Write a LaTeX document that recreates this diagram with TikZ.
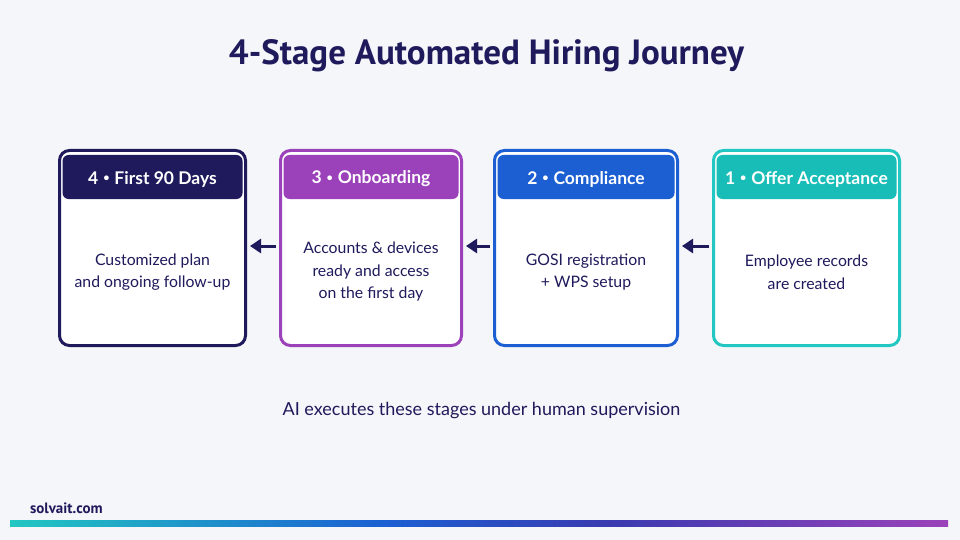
\documentclass[tikz,border=0pt]{standalone}
\usepackage{graphicx}
\usepackage{fontspec}
\setmainfont{Lato}
\newfontfamily\titlefont{PT Sans}
\usetikzlibrary{arrows.meta}
\definecolor{bg}{HTML}{F5F6F9}
\definecolor{navy}{HTML}{1F1A5C}
\definecolor{purp}{HTML}{9B42BA}
\definecolor{blu}{HTML}{1B5FD2}
\definecolor{tealb}{HTML}{22C7C2}
\definecolor{tealh}{HTML}{19BDB7}
\definecolor{indig}{HTML}{3A3AB0}
\newcommand\bul{\hspace{0.28em}\raisebox{0.12em}{\scalebox{0.62}{•}}\hspace{0.28em}}
\pgfdeclarehorizontalshading{barshade}{100bp}{color(0bp)=(tealb); color(25bp)=(tealb); color(45bp)=(blu); color(57bp)=(indig); color(75bp)=(purp); color(100bp)=(purp)}
\tikzset{
  card/.style={draw=#1, line width=3pt, rounded corners=10pt, fill=white, inner sep=0pt, minimum height=195pt},
  head/.style={fill=#1, rounded corners=6pt, inner sep=0pt, minimum height=44pt, text=white, font=\fontsize{17.5}{20}\selectfont\bfseries},
  body/.style={text=navy, align=center, font=\fontsize{15.8}{22.5}\selectfont},
  arr/.style={draw=navy, line width=3pt, -{Triangle[length=11pt,width=14pt]}},
}
\begin{document}
\begin{tikzpicture}[x=1pt,y=-1pt]
\fill[bg] (0,0) rectangle (960,540);
\useasboundingbox (0,0) rectangle (960,540);
\node[text=navy, font=\titlefont\fontsize{35}{40}\selectfont\bfseries] (title) at (486.5,56) {4-Stage Automated Hiring Journey};
% cards
\node[card=navy, minimum width=186pt] (c4) at (152.5,248) {};
\node[card=purp, minimum width=181pt] (c3) at (371,248) {};
\node[card=blu, minimum width=183pt] (c2) at (586,248) {};
\node[card=tealb, minimum width=186pt] (c1) at (806.5,248) {};
% headers
\node[head=navy, minimum width=180pt] (h4) at (152.5,177) {};
\node[head=purp, minimum width=175pt] (h3) at (371,177) {};
\node[head=blu, minimum width=177pt] (h2) at (586,177) {};
\node[head=tealh, minimum width=180pt] (h1) at (806.5,177) {};
\node[text=white, font=\fontsize{17.5}{20}\selectfont\bfseries] (t4) at (152.5,179) {4\bul First 90 Days};
\node[text=white, font=\fontsize{17.5}{20}\selectfont\bfseries] (t3) at (371,179) {3\bul Onboarding};
\node[text=white, font=\fontsize{17.5}{20}\selectfont\bfseries] (t2) at (586,179) {2\bul Compliance};
\node[text=white, font=\fontsize{17.5}{20}\selectfont\bfseries] (t1) at (806.5,179) {1\bul Offer Acceptance};
% bodies
\node[body] (b4) at (152.5,272) {Customized plan\\and ongoing follow-up};
\node[body] (b3) at (371,272) {Accounts \& devices\\ready and access\\on the first day};
\node[body] (b2) at (586,272) {GOSI registration\\+ WPS setup};
\node[body] (b1) at (806.5,272) {Employee records\\are created};
% arrows
\draw[arr] ([xshift=-3pt,yshift=2pt]c3.west) -- ([xshift=3pt,yshift=2pt]c4.east);
\draw[arr] ([xshift=-3pt,yshift=2pt]c2.west) -- ([xshift=3pt,yshift=2pt]c3.east);
\draw[arr] ([xshift=-3pt,yshift=2pt]c1.west) -- ([xshift=3pt,yshift=2pt]c2.east);
% caption
\node[text=navy, font=\fontsize{18}{21}\selectfont] (cap) at (481.5,411) {AI executes these stages under human supervision};
% footer
\node[text=navy, anchor=west, font=\titlefont\fontsize{15}{17}\selectfont\bfseries] (site) at (26.5,508) {solvait.com};
\shade[shading=barshade] (10,520.5) rectangle (948,526.5);
\end{tikzpicture}
\end{document}
